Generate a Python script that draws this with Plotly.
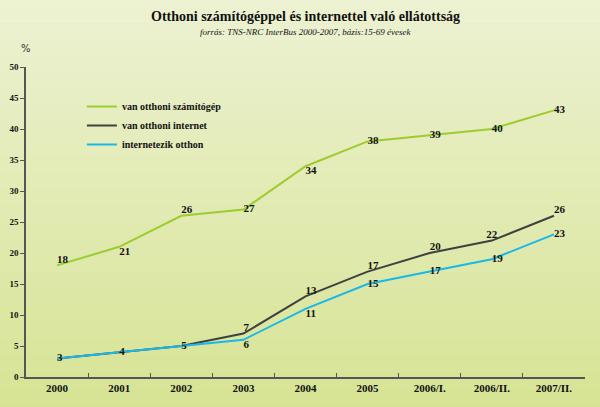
import plotly.graph_objects as go

categories = ["2000", "2001", "2002", "2003", "2004", "2005", "2006/I.", "2006/II.", "2007/II."]
szamitogep = [18, 21, 26, 27, 34, 38, 39, 40, 43]
internet = [3, 4, 5, 7, 13, 17, 20, 22, 26]
internetezik = [3, 4, 5, 6, 11, 15, 17, 19, 23]
y_ticks = [0, 5, 10, 15, 20, 25, 30, 35, 40, 45, 50]

pos_green = ["top right", "bottom right", "top right", "middle right", "bottom right",
             "middle right", "middle right", "middle right", "middle right"]
pos_dark = ["middle right", "middle right", "middle right", "top right", "top right",
            "top right", "top right", "top center", "top right"]
pos_cyan = ["middle right", "middle right", "middle right", "bottom right", "bottom right",
            "middle right", "middle right", "middle right", "middle right"]
dark_text = ["", "", ""] + [str(v) for v in internet[3:]]

serif = "Liberation Serif"
lblfont = dict(family=serif, size=11, color="#111", weight="bold")
fig = go.Figure()
fig.add_trace(go.Scatter(x=categories, y=szamitogep, mode="lines+text", name="van otthoni számítógép",
                         line=dict(color="#9ccc2e", width=2), text=[str(v) for v in szamitogep],
                         textposition=pos_green, textfont=lblfont))
fig.add_trace(go.Scatter(x=categories, y=internet, mode="lines+text", name="van otthoni internet",
                         line=dict(color="#404040", width=2), text=dark_text,
                         textposition=pos_dark, textfont=lblfont))
fig.add_trace(go.Scatter(x=categories, y=internetezik, mode="lines+text", name="internetezik otthon",
                         line=dict(color="#18b9ea", width=2), text=[str(v) for v in internetezik],
                         textposition=pos_cyan, textfont=lblfont))

# background gradient
shapes = []
n = 30
top = (238, 243, 214)
bot = (212, 226, 140)
for i in range(n):
    f = i / (n - 1)
    c = tuple(int(top[k] + (bot[k] - top[k]) * f) for k in range(3))
    shapes.append(dict(type="rect", xref="paper", yref="paper", layer="below",
                       x0=-0.1, x1=1.1, y0=1.3 - (i + 1) * 1.6 / n, y1=1.3 - i * 1.6 / n,
                       fillcolor="rgb(%d,%d,%d)" % c, line=dict(width=0)))

T, B = 67, 30
plot_h = 407 - T - B

def py(pix):
    return (407 - B - pix) / plot_h

fig.update_layout(
    width=600, height=407,
    margin=dict(l=26, r=15, t=T, b=B),
    paper_bgcolor="rgb(226,235,180)", plot_bgcolor="rgba(0,0,0,0)",
    shapes=shapes,
    showlegend=True,
    legend=dict(x=0.10, y=py(92), xanchor="left", yanchor="top", bgcolor="rgba(0,0,0,0)",
                font=dict(family=serif, size=10, color="#111", weight="bold"), tracegroupgap=0,
                itemwidth=30),
    annotations=[
        dict(text="<b>Otthoni számítógéppel és internettel való ellátottság</b>", x=0.5, y=py(17),
             xref="paper", yref="paper", showarrow=False, font=dict(family=serif, size=14, color="#111"),
             yanchor="middle", xanchor="center"),
        dict(text="<i>forrás: TNS-NRC InterBus 2000-2007, bázis:15-69 évesek</i>", x=0.5, y=py(32),
             xref="paper", yref="paper", showarrow=False, font=dict(family=serif, size=9, color="#111"),
             yanchor="middle", xanchor="center"),
        dict(text="%", x=-0.012, y=py(48), xref="paper", yref="paper", showarrow=False,
             font=dict(family="DejaVu Sans", size=10, color="#333"), xanchor="left", yanchor="middle"),
    ],
    xaxis=dict(type="category", tickson="boundaries", ticks="inside", ticklen=4, tickcolor="#555",
               showline=True, linecolor="#555", linewidth=1.5, showgrid=False, automargin=False,
               tickfont=dict(family=serif, size=11, color="#111", weight="bold"), range=[-0.5, 8.5]),
    yaxis=dict(range=[0, 50], tickvals=y_ticks, ticks="outside", ticklen=4, tickcolor="#555",
               showline=True, linecolor="#555", linewidth=1.5, showgrid=False, zeroline=False,
               automargin=False,
               tickfont=dict(family=serif, size=9, color="#111", weight="bold")),
)

fig.write_html("out.html", config={"displayModeBar": False},
               post_script="document.body.style.margin='0';")
